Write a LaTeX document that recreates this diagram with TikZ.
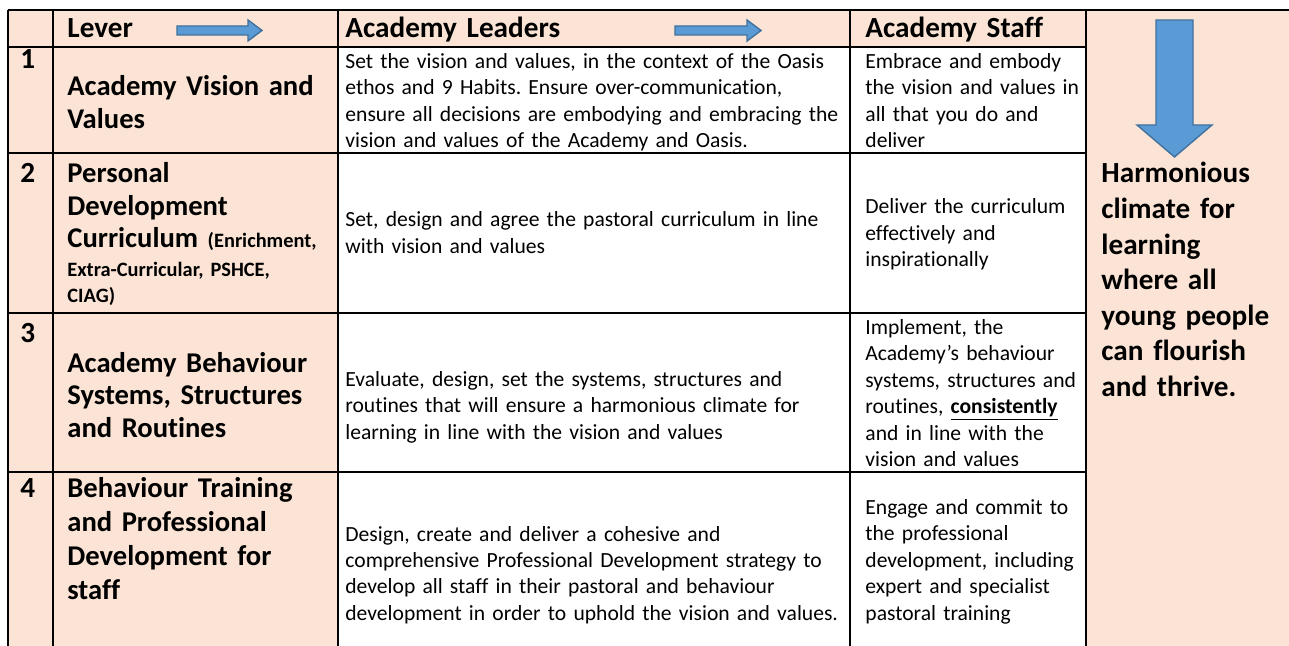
\documentclass[tikz,border=0pt]{standalone}
\usepackage{fontspec}
\setmainfont{Carlito}[Ligatures=NoCommon]
\frenchspacing
\definecolor{peach}{HTML}{FBE4D5}
\definecolor{arrfill}{HTML}{5B9BD5}
\definecolor{arrdraw}{HTML}{41719C}
\tikzset{
  cell/.style={anchor=base west, inner sep=0pt, align=left, text width=#1},
  body/.style={font=\fontsize{10.8}{13.2}\selectfont},
  big/.style={font=\bfseries\fontsize{14.3}{16.25}\selectfont},
  bigwide/.style={font=\bfseries\fontsize{14.3}{17}\selectfont},
  bigone/.style={font=\bfseries\fontsize{14.6}{17}\selectfont},
  small/.style={font=\bfseries\fontsize{10.2}{13}\selectfont},
  result/.style={font=\bfseries\fontsize{14.6}{17.8}\selectfont},
  grid/.style={line width=1.25pt, black},
  blockarrow/.style={fill=arrfill, draw=arrdraw, line width=0.7pt, line join=miter},
}
\begin{document}
\begin{tikzpicture}[x=0.5pt,y=-0.5pt]
\useasboundingbox (0,0) rectangle (1289,646);
% backgrounds
\fill[peach] (8,10) rectangle (338,646);
\fill[peach] (338,10) rectangle (1086,47);
\fill[peach] (1086,10) rectangle (1289,646);
% grid lines
\draw[grid] (8,10) -- (1289,10);
\draw[grid] (8,47) -- (1086,47);
\draw[grid] (8,153) -- (1086,153);
\draw[grid] (8,313) -- (1086,313);
\draw[grid] (8,472) -- (1086,472);
\foreach \xx in {8,53,338,850,1086} \draw[grid] (\xx,10) -- (\xx,646);
% header
\node[cell=60pt, bigone] (hlever) at (67,38) {Lever};
\node[cell=200pt, bigone] (hlead) at (345,38) {Academy Leaders};
\node[cell=110pt, bigone] (hstaff) at (865,38) {Academy Staff};
\draw[blockarrow] (177,26) -- (248,26) -- (248,20) -- (262,30.5) -- (248,41) -- (248,35) -- (177,35) -- cycle;
\draw[blockarrow] (675,26) -- (747,26) -- (747,20) -- (761,30.5) -- (747,41) -- (747,35) -- (675,35) -- cycle;
\draw[blockarrow] (1156,20) -- (1193,20) -- (1193,125) -- (1212,125) -- (1174.5,157) -- (1137,125) -- (1156,125) -- cycle;
% row 1
\node[cell=20pt, bigone] (n1) at (20,69) {1};
\node[cell=150pt, big] (lev1) at (67,96) {Academy Vision and\\Values};
\node[cell=260pt, body] (lead1) at (345,68.5) {Set the vision and values, in the context of the Oasis\\ethos and 9 Habits. Ensure over-communication,\\ensure all decisions are embodying and embracing the\\vision and values of the Academy and Oasis.};
\node[cell=115pt, body] (staff1) at (865,68.5) {Embrace and embody\\the vision and values in\\all that you do and\\deliver};
% row 2
\node[cell=20pt, bigone] (n2) at (20,183) {2};
\node[cell=150pt, big] (lev2) at (67,183) {Personal\\Development\\Curriculum {\fontsize{10.2}{12}\selectfont (Enrichment,}};
\node[cell=150pt, small] (lev2b) at (67,277) {Extra-Curricular, PSHCE,\\CIAG)};
\node[cell=260pt, body] (lead2) at (345,227) {Set, design and agree the pastoral curriculum in line\\with vision and values};
\node[cell=115pt, body] (staff2) at (865,214) {Deliver the curriculum\\effectively and\\inspirationally};
% row 3
\node[cell=20pt, bigone] (n3) at (20,343) {3};
\node[cell=150pt, big] (lev3) at (67,372) {Academy Behaviour\\Systems, Structures\\and Routines};
\node[cell=260pt, body] (lead3) at (345,386.5) {Evaluate, design, set the systems, structures and\\routines that will ensure a harmonious climate for\\learning in line with the vision and values};
\node[cell=115pt, body] (staff3) at (865,334.5) {Implement, the\\Academy’s behaviour\\systems, structures and\\routines, \underline{\textbf{consistently}}\\and in line with the\\vision and values};
% row 4
\node[cell=20pt, bigone] (n4) at (20,497) {4};
\node[cell=150pt, bigwide] (lev4) at (67,497) {Behaviour Training\\and Professional\\Development for\\staff};
\node[cell=260pt, body] (lead4) at (345,541) {Design, create and deliver a cohesive and\\comprehensive Professional Development strategy to\\develop all staff in their pastoral and behaviour\\development in order to uphold the vision and values.};
\node[cell=115pt, body] (staff4) at (865,514.5) {Engage and commit to\\the professional\\development, including\\expert and specialist\\pastoral training};
% result column
\node[cell=95pt, result] (result) at (1101,183) {Harmonious\\climate for\\learning\\where all\\young people\\can flourish\\and thrive.};
\end{tikzpicture}
\end{document}
